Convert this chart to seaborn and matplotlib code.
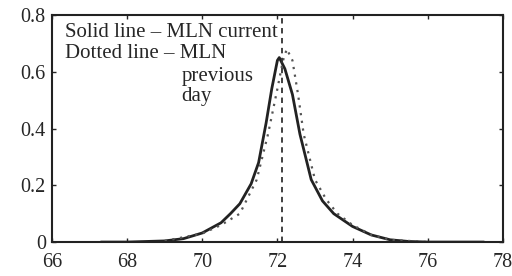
# MLN price distribution: current vs previous day
import seaborn as sns
import matplotlib.pyplot as plt
import pandas as pd

# solid curve - MLN current
cur_x = [67.3, 68.0, 69.0, 69.5, 70.0, 70.5, 70.75, 71.0, 71.3, 71.5, 71.7, 71.85,
         72.0, 72.05, 72.2, 72.4, 72.6, 72.9, 73.2, 73.5, 74.0, 74.5, 75.0, 75.5, 76.0, 77.5]
cur_y = [0.0, 0.0, 0.004, 0.012, 0.032, 0.068, 0.10, 0.135, 0.205, 0.28, 0.42, 0.54,
         0.64, 0.65, 0.61, 0.52, 0.38, 0.22, 0.145, 0.10, 0.055, 0.025, 0.008, 0.002, 0.0, 0.0]

# dotted curve - MLN previous day
prev_x = [69.0, 70.0, 70.5, 71.0, 71.45, 71.75, 72.0, 72.15, 72.25, 72.4, 72.55, 72.7,
          73.0, 73.3, 73.6, 74.0, 74.5, 75.0, 76.0]
prev_y = [0.004, 0.03, 0.06, 0.10, 0.22, 0.38, 0.54, 0.64, 0.68, 0.64, 0.52, 0.38,
          0.22, 0.15, 0.10, 0.06, 0.025, 0.008, 0.0]

mark_x = 72.13  # dashed vertical marker

x_ticks = [66, 68, 70, 72, 74, 76, 78]
y_ticks = [0, 0.2, 0.4, 0.6, 0.8]
y_labels = ["0", "0.2", "0.4", "0.6", "0.8"]

sns.set_style("ticks")
plt.rcParams["font.family"] = ["Liberation Serif", "DejaVu Serif"]
plt.rcParams["xtick.direction"] = "in"
plt.rcParams["ytick.direction"] = "in"

fig = plt.figure(figsize=(5.12, 2.76), dpi=100)
ax = fig.add_axes([0.1016, 0.123, 0.8804, 0.8227])

df_cur = pd.DataFrame({"x": cur_x, "y": cur_y})
df_prev = pd.DataFrame({"x": prev_x, "y": prev_y})

sns.lineplot(data=df_cur, x="x", y="y", ax=ax, color="#222222", linewidth=2.0)
sns.lineplot(data=df_prev, x="x", y="y", ax=ax, color="#555555", linewidth=1.6,
             linestyle=(0, (1, 2.5)))
ax.axvline(mark_x, color="#333333", linewidth=1.3, linestyle=(0, (3, 2.5)))

ax.set_xlim(66, 78)
ax.set_ylim(0, 0.8)
ax.set_xticks(x_ticks)
ax.set_xticklabels([str(t) for t in x_ticks])
ax.set_yticks(y_ticks)
ax.set_yticklabels(y_labels)
ax.tick_params(labelsize=14.5, length=3, width=1, top=True, right=True)
ax.tick_params(axis="x", pad=8)
ax.tick_params(axis="y", pad=4.5)
ax.set_xlabel("")
ax.set_ylabel("")
for sp in ax.spines.values():
    sp.set_linewidth(1.5)
    sp.set_color("#222222")

fs = 15
ax.text(66.35, 0.7235, "Solid line \u2013 MLN current", fontsize=fs, va="baseline")
ax.text(66.35, 0.647, "Dotted line \u2013 MLN", fontsize=fs, va="baseline")
ax.text(69.45, 0.567, "previous", fontsize=fs, va="baseline")
ax.text(69.45, 0.497, "day", fontsize=fs, va="baseline")

plt.savefig("out.png", dpi=100)
plt.close()
